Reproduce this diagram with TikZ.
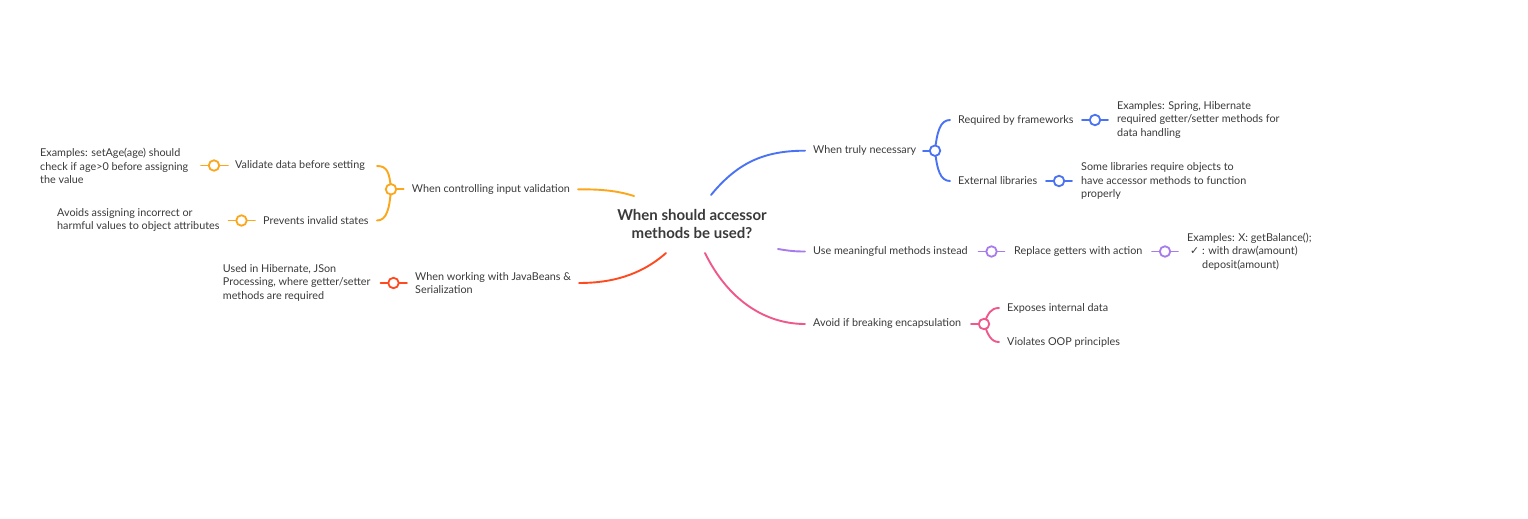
\documentclass[tikz,border=0pt]{standalone}
\usepackage{fontspec}
\setmainfont{Lato}
\newfontfamily\symfont{DejaVu Sans}
\usetikzlibrary{backgrounds}
\definecolor{txt}{HTML}{3A3A3A}
\definecolor{cOr}{HTML}{FBA61B}
\definecolor{cRd}{HTML}{FF4A1F}
\definecolor{cBl}{HTML}{4A72F5}
\definecolor{cPu}{HTML}{A77BEC}
\definecolor{cPk}{HTML}{F0588C}
\tikzset{
  lbl/.style={anchor=west, inner sep=0pt, text=txt, font=\fontsize{10.8}{13.5}\selectfont, align=left},
  rootnode/.style={inner sep=0pt, text=txt, font=\fontsize{15}{18}\selectfont\bfseries, align=center},
  dot/.style={circle, draw=#1, fill=white, line width=1.8pt, minimum size=10.5pt, inner sep=0pt},
  conn/.style={draw=#1, line width=1.9pt, line cap=round},
}
\begin{document}
\begin{tikzpicture}[x=1pt,y=-1pt]
\useasboundingbox (0,0) rectangle (1528,519);
% root
\node[rootnode] (root) at (692,224) {When should accessor\\methods be used?};
\coordinate (rOr) at (634,196);
\coordinate (rRd) at (666,253);
\coordinate (rBl) at (711,195);
\coordinate (rPu) at (778,249);
\coordinate (rPk) at (705,253);
% orange
\node[lbl] (oB) at (411.7,189.3) {When controlling input validation};
\node[dot=cOr] (oC) at (391,189.3) {};
\node[lbl] (oV) at (235,165.5) {Validate data before setting};
\node[dot=cOr] (oVc) at (214,165.5) {};
\node[lbl] (oVe) at (40,166) {Examples: setAge(age) should\\check if age>0 before assigning\\the value};
\node[lbl] (oP) at (263,220.5) {Prevents invalid states};
\node[dot=cOr] (oPc) at (241.5,220.5) {};
\node[lbl] (oPe) at (57,220) {Avoids assigning incorrect or\\harmful values to object attributes};
\coordinate (oTop) at (377,166);
\coordinate (oBot) at (377,220.5);
% red
\node[lbl] (rB) at (415,283) {When working with JavaBeans \&\\Serialization};
\node[dot=cRd] (rC) at (393.5,283) {};
\node[lbl] (rE) at (222.7,282.7) {Used in Hibernate, JSon\\Processing, where getter/setter\\methods are required};
% blue
\node[lbl] (bB) at (813,150.7) {When truly necessary};
\node[dot=cBl] (bC) at (935,150.7) {};
\coordinate (bTop) at (950,120);
\coordinate (bBot) at (950,181);
\node[lbl] (bR) at (958,120) {Required by frameworks};
\node[dot=cBl] (bRc) at (1095,120) {};
\node[lbl] (bRe) at (1117,120) {Examples: Spring, Hibernate\\required getter/setter methods for\\data handling};
\node[lbl] (bX) at (958,181) {External libraries};
\node[dot=cBl] (bXc) at (1059,181) {};
\node[lbl] (bXe) at (1081,181) {Some libraries require objects to\\have accessor methods to function\\properly};
% purple
\node[lbl] (pB) at (813,251.5) {Use meaningful methods instead};
\node[dot=cPu] (pC) at (991.5,251.5) {};
\node[lbl] (pR) at (1014,251.5) {Replace getters with action};
\node[dot=cPu] (pRc) at (1165,251.5) {};
\node[lbl] (pRe) at (1187,251.5) {Examples: X: getBalance();\\\hspace*{3pt}{\symfont ✓} : with draw(amount)\\\hspace*{15pt}deposit(amount)};
% pink
\node[lbl] (kB) at (813,324) {Avoid if breaking encapsulation};
\node[dot=cPk] (kC) at (984,324) {};
\coordinate (kTop) at (999,308);
\coordinate (kBot) at (999,342);
\node[lbl] (kE) at (1007,308) {Exposes internal data};
\node[lbl] (kV) at (1007,342) {Violates OOP principles};

\begin{scope}[on background layer]
\fill[white] (0,0) rectangle (1528,519);
% orange
\draw[conn=cOr] (rOr) .. controls (615,190) and (598,189.3) .. ([xshift=8pt]oB.east);
\draw[conn=cOr] (oC.center) -- ([xshift=-8pt]oB.west);
\draw[conn=cOr] (oC.center) .. controls (389.5,172) and (387,166) .. (oTop);
\draw[conn=cOr] (oC.center) .. controls (389.5,208) and (387,220.5) .. (oBot);
\draw[conn=cOr] ([xshift=-7pt]oV.west) -- ([xshift=-13pt]oVc.center);
\draw[conn=cOr] ([xshift=-8pt]oP.west) -- ([xshift=-13pt]oPc.center);
% red
\draw[conn=cRd] (rRd) .. controls (640,276) and (610,283) .. ([xshift=8pt]rB.east);
\draw[conn=cRd] ([xshift=-8pt]rB.west) -- ([xshift=-13pt]rC.center);
% blue
\draw[conn=cBl] (rBl) .. controls (738,162) and (765,150.7) .. ([xshift=-8pt]bB.west);
\draw[conn=cBl] ([xshift=-12pt]bC.center) -- (bC.center);
\draw[conn=cBl] (bC.center) .. controls (937,132) and (940,120) .. (bTop);
\draw[conn=cBl] (bC.center) .. controls (937,169) and (940,181) .. (bBot);
\draw[conn=cBl] ([xshift=-13pt]bRc.center) -- ([xshift=13pt]bRc.center);
\draw[conn=cBl] ([xshift=-13pt]bXc.center) -- ([xshift=13pt]bXc.center);
% purple
\draw[conn=cPu] (rPu) .. controls (790,251) and (795,251.5) .. ([xshift=-8pt]pB.west);
\draw[conn=cPu] ([xshift=-13pt]pC.center) -- ([xshift=13pt]pC.center);
\draw[conn=cPu] ([xshift=-13pt]pRc.center) -- ([xshift=13pt]pRc.center);
% pink
\draw[conn=cPk] (rPk) .. controls (728,300) and (765,324) .. ([xshift=-8pt]kB.west);
\draw[conn=cPk] ([xshift=-13pt]kC.center) -- (kC.center);
\draw[conn=cPk] (kC.center) .. controls (988,313) and (991,308) .. (kTop);
\draw[conn=cPk] (kC.center) .. controls (988,335) and (991,342) .. (kBot);
\end{scope}
\end{tikzpicture}
\end{document}
